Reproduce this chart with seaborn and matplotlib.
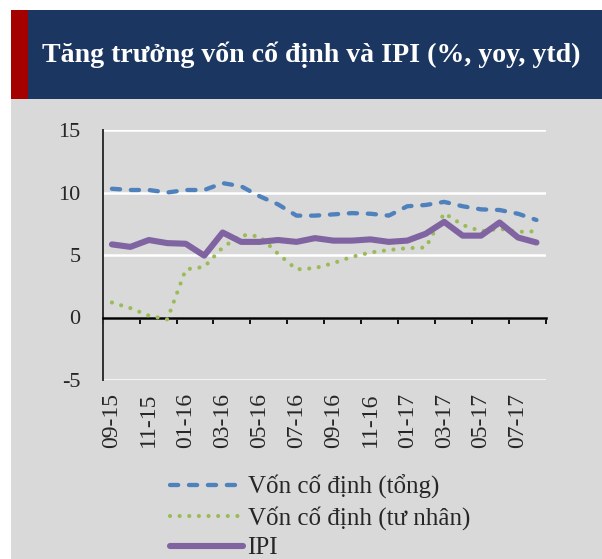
import matplotlib
matplotlib.use("Agg")
import matplotlib.pyplot as plt
from matplotlib.patches import Rectangle
import numpy as np
import seaborn as sns

# data (% yoy, ytd), monthly 09-15 .. 08-17
months = ["09-15", "10-15", "11-15", "12-15", "01-16", "02-16", "03-16", "04-16",
          "05-16", "06-16", "07-16", "08-16", "09-16", "10-16", "11-16", "12-16",
          "01-17", "02-17", "03-17", "04-17", "05-17", "06-17", "07-17", "08-17"]
von_tong = [10.3, 10.2, 10.2, 10.0, 10.2, 10.2, 10.75, 10.5, 9.7, 9.05, 8.15, 8.15,
            8.25, 8.35, 8.3, 8.15, 8.9, 9.0, 9.25, 8.9, 8.65, 8.6, 8.3, 7.8]
von_tu_nhan = [1.2, 0.75, 0.15, -0.15, 3.85, 4.05, 5.6, 6.6, 6.5, 5.1, 3.85, 3.95,
               4.35, 4.85, 5.2, 5.4, 5.55, 5.6, 8.35, 7.4, 6.9, 7.1, 6.85, 6.9]
ipi = [5.85, 5.65, 6.2, 5.95, 5.9, 4.95, 6.8, 6.05, 6.05, 6.2, 6.05, 6.35,
       6.15, 6.15, 6.25, 6.05, 6.15, 6.7, 7.65, 6.55, 6.55, 7.6, 6.4, 6.0]
series_names = ["Vốn cố định (tổng)", "Vốn cố định (tư nhân)", "IPI"]
title = "Tăng trưởng vốn cố định và IPI (%, yoy, ytd)"

sns.set_style("white")
plt.rcParams["font.family"] = ["Liberation Serif", "DejaVu Serif"]
plt.rcParams["axes.unicode_minus"] = False

BG = "#d9d9d9"
NAVY = "#1b3660"
RED = "#a50000"
C_BLUE = "#4f81bd"
C_GREEN = "#9bbb59"
C_PURPLE = "#8064a2"

fig = plt.figure(figsize=(6.02, 5.59), dpi=100)
fig.patch.set_facecolor("white")

# grey panel + title bar
fig.patches.append(Rectangle((11 / 602, 0), 1, 460 / 559, transform=fig.transFigure,
                             facecolor=BG, edgecolor="none", zorder=-3))
fig.patches.append(Rectangle((11 / 602, 460 / 559), 1, 89 / 559, transform=fig.transFigure,
                             facecolor=NAVY, edgecolor="none", zorder=-2))
fig.patches.append(Rectangle((11 / 602, 460 / 559), 17 / 602, 89 / 559, transform=fig.transFigure,
                             facecolor=RED, edgecolor="none", zorder=-1))
fig.text(42 / 602, 504 / 559, title, color="white", fontsize=20.1, fontweight="bold",
         ha="left", va="center")

ax = fig.add_axes([102.7 / 602, 179 / 559, 443 / 602, 250 / 559])
ax.set_zorder(2)
ax.set_facecolor(BG)

x = np.arange(len(months))
sns.lineplot(x=x, y=von_tong, ax=ax, color=C_BLUE, linewidth=3.1,
             linestyle=(0, (1.9, 2.5)), dash_capstyle="round", label=series_names[0], zorder=3)
sns.lineplot(x=x, y=von_tu_nhan, ax=ax, color=C_GREEN, linewidth=3.0,
             linestyle=(0, (0.01, 2.3)), dash_capstyle="round", label=series_names[1], zorder=4)
sns.lineplot(x=x, y=ipi, ax=ax, color=C_PURPLE, linewidth=4.4,
             solid_capstyle="round", solid_joinstyle="round", label=series_names[2], zorder=5)

ax.set_xlim(-0.5, len(months) - 0.5)
ax.set_ylim(-5, 15)
ax.set_yticks([-5, 0, 5, 10, 15])
ax.grid(axis="y", color="white", linewidth=1.8)
ax.grid(axis="x", visible=False)
ax.set_axisbelow(True)
for s in ["top", "right"]:
    ax.spines[s].set_visible(False)
ax.spines["left"].set_color("#303030")
ax.spines["left"].set_linewidth(1.4)

# category axis crosses at zero; labels stay at the bottom via a large pad
ax.spines["bottom"].set_visible(True)
ax.spines["bottom"].set_position(("data", 0))
ax.spines["bottom"].set_color("black")
ax.spines["bottom"].set_linewidth(1.8)
ax.spines["bottom"].set_zorder(2.5)

ax.set_xticks(x[::2])
ax.set_xticklabels(months[::2], rotation=90, fontsize=17)
ax.set_xticks(np.arange(-0.5, len(months), 2), minor=True)
ax.tick_params(axis="x", which="major", length=0, pad=54, bottom=True)
ax.tick_params(axis="x", which="minor", length=4.5, width=1.3, color="black",
               direction="out", bottom=True)
ax.tick_params(axis="y", length=0, pad=16, labelsize=16)
ax.set_xlabel("")
ax.set_ylabel("")

handles, labels = ax.get_legend_handles_labels()
ax.legend_.remove()
fig.legend(handles, labels, loc="center", bbox_to_anchor=(320 / 602, 42 / 559), frameon=False,
           fontsize=18, handlelength=2.9, handletextpad=0.2, labelspacing=0.28,
           borderpad=0)

fig.savefig("out.png", dpi=100, facecolor=fig.get_facecolor())
